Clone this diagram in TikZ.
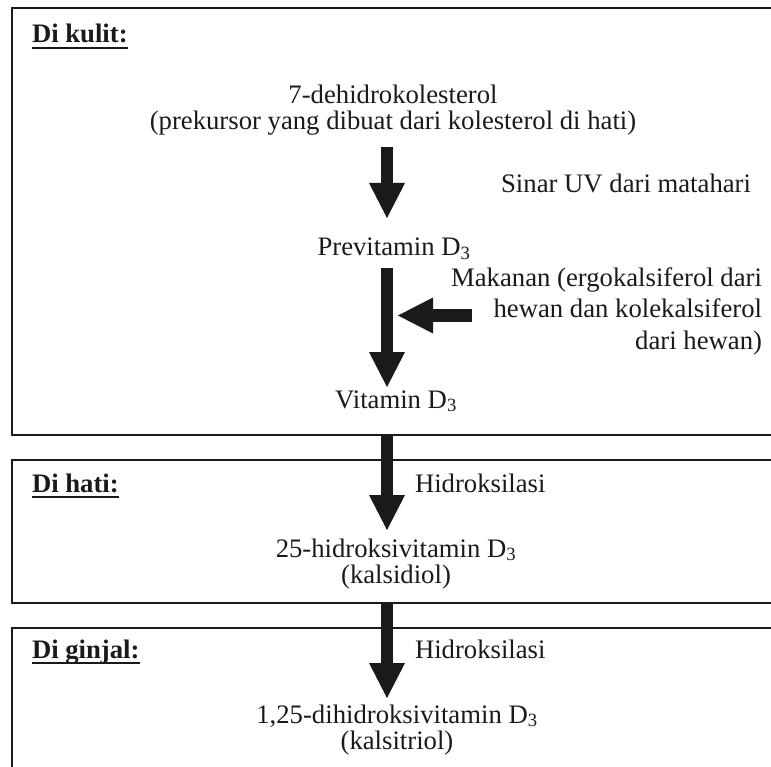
\documentclass[tikz,border=0pt]{standalone}
\usepackage{fontspec}
\setmainfont{Liberation Serif}
\usetikzlibrary{arrows.meta}
\definecolor{ink}{HTML}{1A1A1A}
\begin{document}
\begin{tikzpicture}[x=1pt,y=-1pt,
  font=\fontsize{26.7}{30}\selectfont,
  panel/.style={draw=ink, line width=2pt, anchor=north west, inner sep=0pt, outer sep=0pt, minimum width=778pt},
  txt/.style={inner sep=0pt, outer sep=0pt, anchor=base, text=ink},
  txtl/.style={txt, anchor=base west},
  txtr/.style={txt, anchor=base east},
  head/.style={txtl, font=\fontsize{26.7}{30}\selectfont\bfseries},
  uline/.style={draw=ink, line width=2.2pt},
  bigarrow/.style={draw=ink, line width=12pt, -{Triangle[width=36pt,length=35pt,line width=0pt]}},
  sidearrow/.style={draw=ink, line width=13pt, -{Triangle[width=36pt,length=35pt,line width=0pt]}}
]
\useasboundingbox (0,0) rectangle (771,767);
\begin{scope}
\clip (0,0) rectangle (771,767);
% panels
\node[panel, minimum height=427pt] (box1) at (12,8) {};
\node[panel, minimum height=143pt] (box2) at (12,460) {};
\node[panel, minimum height=180pt] (box3) at (12,628) {};

% headings
\node[head] (kulit) at (32,43) {Di kulit:};
\node[head] (hati) at (32,492) {Di hati:};
\node[head] (ginjal) at (32,658) {Di ginjal:};
\draw[uline] ([yshift=-5pt]kulit.base west) -- ([yshift=-5pt]kulit.base east);
\draw[uline] ([yshift=-5pt]hati.base west) -- ([yshift=-5pt]hati.base east);
\draw[uline] ([yshift=-5pt]ginjal.base west) -- ([yshift=-5pt]ginjal.base east);

% texts
\node[txt] (dehidro1) at (393,104) {7-dehidrokolesterol};
\node[txt] (dehidro2) at (393,130) {(prekursor yang dibuat dari kolesterol di hati)};
\node[txtr] (sinar) at (751,193) {Sinar UV dari matahari};
\node[txt] (previt) at (394,256) {Previtamin D\textsubscript{3}};
\node[txtr] (makan1) at (762,287) {Makanan (ergokalsiferol dari};
\node[txtr] (makan2) at (762,318) {hewan dan kolekalsiferol};
\node[txtr] (makan3) at (762,349) {dari hewan)};
\node[txt] (vitd) at (396,408) {Vitamin D\textsubscript{3}};
\node[txtl] (hidrok1) at (415,492) {Hidroksilasi};
\node[txt] (h25a) at (396,557) {25-hidroksivitamin D\textsubscript{3}};
\node[txt] (h25b) at (396,583) {(kalsidiol)};
\node[txtl] (hidrok2) at (415,658) {Hidroksilasi};
\node[txt] (d125a) at (397,723) {1,25-dihidroksivitamin D\textsubscript{3}};
\node[txt] (d125b) at (397,749) {(kalsitriol)};

% arrows
\coordinate (ax) at (387,0);
\draw[bigarrow] ([yshift=-17pt]ax |- dehidro2.base) -- ([yshift=38pt]ax |- previt.base);
\draw[bigarrow] ([yshift=-12pt]ax |- previt.base) -- ([yshift=21pt]ax |- vitd.base);
\draw[sidearrow] ([xshift=-22pt,yshift=2.5pt]makan2.base west) -- ([xshift=11pt,yshift=2.5pt]ax |- makan2.base);
\draw[bigarrow] (ax |- box1.south) -- ([yshift=27pt]ax |- h25a.base);
\draw[bigarrow] (ax |- box2.south) -- ([yshift=25pt]ax |- d125a.base);
\end{scope}
\end{tikzpicture}
\end{document}
